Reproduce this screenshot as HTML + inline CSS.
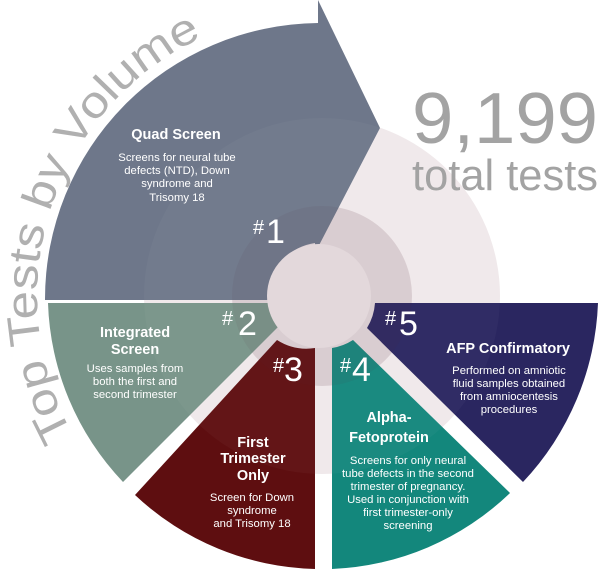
<!DOCTYPE html>
<html><head><meta charset="utf-8"><style>
html,body{margin:0;padding:0;background:#fff;}
svg{display:block;}
text{font-family:"Liberation Sans",sans-serif;}
.t{fill:#fff;font-weight:bold;font-size:14.5px;text-anchor:middle;}
.b{fill:#fff;font-size:11.3px;text-anchor:middle;}
.h{fill:#fff;font-size:20px;}
.n{fill:#fff;font-size:34px;}
</style></head><body>
<svg width="600" height="569" viewBox="0 0 600 569" xmlns="http://www.w3.org/2000/svg">
<circle cx="322" cy="296" r="178" fill="#f0e9eb"/>
<circle cx="322" cy="296" r="90" fill="#e4d9dc"/>
<!-- Quad -->
<path d="M45,300 A276,276 0 0 1 318,23 L318,0 L380,128 L315,253 L315,243 A55,55 0 0 0 268,292 L268,300 Z" fill="#6e778a"/>
<!-- Integrated -->
<path d="M48,303 L268,303 A55,55 0 0 0 278,327 L123,482 A272,272 0 0 1 48,303 Z" fill="#789489"/>
<!-- First trimester -->
<path d="M277,340 A55,55 0 0 0 315,348 L315,569 A272,272 0 0 1 135,495 Z" fill="#5e0e10"/>
<!-- Alpha -->
<path d="M332,348 A55,55 0 0 0 353,340 L510,493 A272,272 0 0 1 332,569 Z" fill="#13877c"/>
<!-- AFP -->
<path d="M375,303 L598,303 A276,276 0 0 1 523,482 L367,328 A55,55 0 0 0 375,303 Z" fill="#2a2660"/>
<circle cx="322" cy="296" r="178" fill="#ffffff" opacity="0.03"/>
<circle cx="322" cy="296" r="90" fill="#50303c" opacity="0.07"/>
<circle cx="319" cy="296" r="52" fill="#e3d8db"/>

<defs><path id="arc" d="M72.7,434.2 A285,285 0 0 1 215,32"/></defs>
<text font-size="44" fill="#b0b0b0"><textPath href="#arc" textLength="468" lengthAdjust="spacingAndGlyphs">Top Tests by Volume</textPath></text>

<text x="412" y="143" font-size="72" fill="#a3a3a3" textLength="186" lengthAdjust="spacingAndGlyphs">9,199</text>
<text x="412" y="190" font-size="44" fill="#a3a3a3" textLength="186" lengthAdjust="spacingAndGlyphs">total tests</text>

<text class="t" x="176" y="139">Quad Screen</text>
<text class="b" x="177" y="161">Screens for neural tube</text>
<text class="b" x="177" y="174">defects (NTD), Down</text>
<text class="b" x="177" y="187">syndrome and</text>
<text class="b" x="177" y="201">Trisomy 18</text>

<text class="t" x="135" y="337">Integrated</text>
<text class="t" x="135" y="354">Screen</text>
<text class="b" x="135" y="372">Uses samples from</text>
<text class="b" x="135" y="385">both the first and</text>
<text class="b" x="135" y="398">second trimester</text>

<text class="t" x="253" y="447">First</text>
<text class="t" x="253" y="463">Trimester</text>
<text class="t" x="253" y="480">Only</text>
<text class="b" x="252" y="501">Screen for Down</text>
<text class="b" x="252" y="514">syndrome</text>
<text class="b" x="252" y="527">and Trisomy 18</text>

<text class="t" x="389" y="422">Alpha-</text>
<text class="t" x="389" y="442">Fetoprotein</text>
<text class="b" x="408" y="464">Screens for only neural</text>
<text class="b" x="408" y="477">tube defects in the second</text>
<text class="b" x="408" y="490">trimester of pregnancy.</text>
<text class="b" x="408" y="503">Used in conjunction with</text>
<text class="b" x="408" y="516">first trimester-only</text>
<text class="b" x="408" y="529">screening</text>

<text class="t" x="508" y="353">AFP Confirmatory</text>
<text class="b" x="509" y="374">Performed on amniotic</text>
<text class="b" x="509" y="387">fluid samples obtained</text>
<text class="b" x="509" y="400">from amniocentesis</text>
<text class="b" x="509" y="413">procedures</text>

<text class="h" x="253" y="234">#</text><text class="n" x="266" y="243">1</text>
<text class="h" x="222" y="325">#</text><text class="n" x="238" y="335">2</text>
<text class="h" x="273" y="372">#</text><text class="n" x="284" y="381">3</text>
<text class="h" x="340" y="372">#</text><text class="n" x="352" y="381">4</text>
<text class="h" x="385" y="325">#</text><text class="n" x="399" y="335">5</text>
</svg>
</body></html>
